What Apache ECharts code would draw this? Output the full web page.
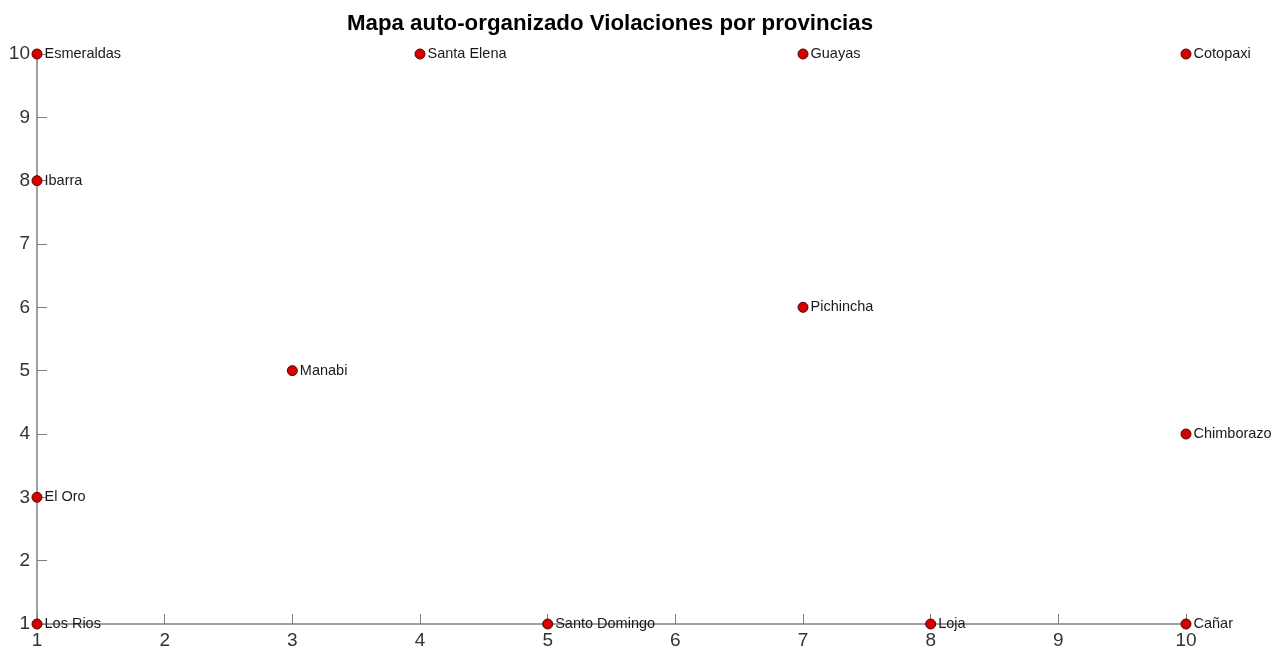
<!DOCTYPE html>
<html>
<head>
<meta charset="utf-8">
<script src="https://cdn.jsdelivr.net/npm/echarts@6/dist/echarts.min.js"></script>
<style>
html,body{margin:0;padding:0;background:#fff;}
#chart{width:1285px;height:656px;}
</style>
</head>
<body>
<div id="chart"></div>
<script>
const provinces = ['Esmeraldas','Santa Elena','Guayas','Cotopaxi','Ibarra','Pichincha','Manabi','Chimborazo','El Oro','Los Rios','Santo Domingo','Loja','Cañar'];
const xValues = [1,4,7,10,1,7,3,10,1,1,5,8,10];
const yValues = [10,10,10,10,8,6,5,4,3,1,1,1,1];
const xTicks = [1,2,3,4,5,6,7,8,9,10];
const yTicks = [1,2,3,4,5,6,7,8,9,10];

const data = provinces.map((p,i)=>({name:p, value:[xValues[i], yValues[i]]}));
const font = '"Liberation Sans", Arial, Helvetica, sans-serif';
const chart = echarts.init(document.getElementById('chart'));
chart.setOption({
  animation:false,
  backgroundColor:'#ffffff',
  title:{
    text:'Mapa auto-organizado Violaciones por provincias',
    left:605, textAlign:'center', top:8,
    textStyle:{fontFamily:font, fontSize:22.3, fontWeight:'bold', color:'#000'}
  },
  grid:{left:37, right:99, top:54, bottom:32, containLabel:false},
  xAxis:{
    type:'value', min:1, max:10, interval:1,
    axisLine:{show:true, onZero:false, lineStyle:{color:'#808080', width:1.5}},
    axisTick:{show:true, inside:true, length:10, lineStyle:{color:'#808080'}},
    axisLabel:{fontFamily:font, fontSize:19, color:'#333333', margin:7,
      formatter:v=>xTicks.includes(v)?String(v):''},
    splitLine:{show:false}
  },
  yAxis:{
    type:'value', min:1, max:10, interval:1,
    axisLine:{show:true, onZero:false, lineStyle:{color:'#808080', width:1.5}},
    axisTick:{show:true, inside:true, length:10, lineStyle:{color:'#808080'}},
    axisLabel:{fontFamily:font, fontSize:19, color:'#333333', margin:7,
      formatter:v=>yTicks.includes(v)?String(v):''},
    splitLine:{show:false}
  },
  series:[{
    type:'scatter',
    data:data,
    symbolSize:10,
    clip:false,
    itemStyle:{color:'#d40000', borderColor:'#5a0000', borderWidth:1, opacity:1},
    label:{show:true, position:'right', distance:2, formatter:p=>p.name,
      fontFamily:font, fontSize:14.5, color:'#1a1a1a'},
    emphasis:{disabled:true}
  }]
});
</script>
</body>
</html>
